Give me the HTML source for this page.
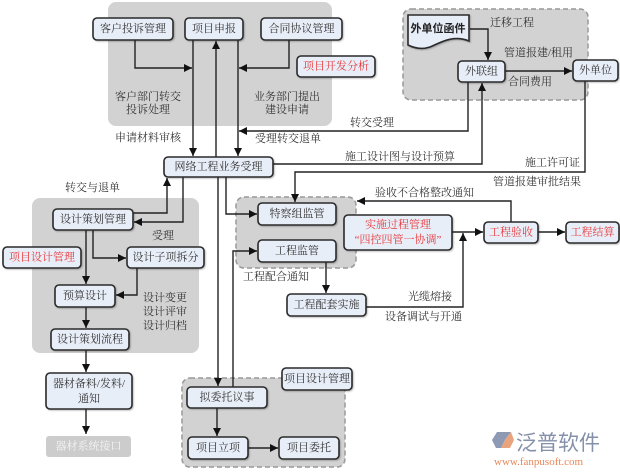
<!DOCTYPE html>
<html><head><meta charset="utf-8"><style>
html,body{margin:0;padding:0;background:#fff;}
svg{display:block;}
text{font-family:"Liberation Serif","Noto Serif CJK SC",serif;font-size:11px;fill:#333;}
.b{fill:#e8eef8;stroke:#2a2a2a;stroke-width:1.6;}
.l{fill:none;stroke:#222;stroke-width:1.4;}
.r{fill:#e8383a;}
.c{text-anchor:middle;dominant-baseline:central;}
.s{text-anchor:start;dominant-baseline:central;}
</style></head><body>
<svg width="620" height="476" viewBox="0 0 620 476" xmlns="http://www.w3.org/2000/svg">
<defs>
<marker id="a" viewBox="0 0 10 10" refX="10" refY="5" markerWidth="8" markerHeight="8" markerUnits="userSpaceOnUse" orient="auto">
<path d="M0,0 L10,5 L0,10 Z" fill="#111"/>
</marker>
<filter id="sh" x="-10%" y="-10%" width="130%" height="140%"><feDropShadow dx="1" dy="1" stdDeviation="0.8" flood-color="#000" flood-opacity="0.25"/></filter>
</defs>

<!-- background groups -->
<rect x="108" y="2" width="224" height="124" rx="8" fill="#d2d2d2"/>
<rect x="403" y="9" width="185" height="91" rx="8" fill="#d2d2d2" stroke="#999" stroke-width="1.5" stroke-dasharray="5,3"/>
<rect x="32" y="198" width="167" height="155" rx="8" fill="#d2d2d2"/>
<rect x="236" y="197" width="120" height="71" rx="8" fill="#d2d2d2" stroke="#999" stroke-width="1.5" stroke-dasharray="5,3"/>
<rect x="182" y="378" width="163" height="89" rx="8" fill="#d2d2d2" stroke="#999" stroke-width="1.5" stroke-dasharray="5,3"/>

<!-- connectors -->
<path class="l" d="M135,40 V68 H192" marker-end="url(#a)"/>
<path class="l" d="M193,40 V156" marker-end="url(#a)"/>
<path class="l" d="M216,157 V41" marker-end="url(#a)"/>
<path class="l" d="M238,40 V156" marker-end="url(#a)"/>
<path class="l" d="M289,40 V68 H239" marker-end="url(#a)"/>
<path class="l" d="M468,82 V131 H239" marker-end="url(#a)"/>
<path class="l" d="M273,164 H482 V83" marker-end="url(#a)"/>
<path class="l" d="M470,29 H488 V60" marker-end="url(#a)"/>
<path class="l" d="M505,71 H572" marker-end="url(#a)"/>
<path class="l" d="M585,81 V172 H295 V202" marker-end="url(#a)"/>
<path class="l" d="M183,177 V222 H134" marker-end="url(#a)"/>
<path class="l" d="M133,213 H167 V178" marker-end="url(#a)"/>
<path class="l" d="M226,177 V214 H257" marker-end="url(#a)"/>
<path class="l" d="M218,177 V386" marker-end="url(#a)"/>
<path class="l" d="M233,387 V251 H257" marker-end="url(#a)"/>
<path class="l" d="M93,230 V258 H126" marker-end="url(#a)"/>
<path class="l" d="M86,230 V284" marker-end="url(#a)"/>
<path class="l" d="M137,268 V295 H116" marker-end="url(#a)"/>
<path class="l" d="M86,307 V328" marker-end="url(#a)"/>
<path class="l" d="M86,350 V372" marker-end="url(#a)"/>
<path class="l" d="M86,409 V434" marker-end="url(#a)"/>
<path class="l" d="M217,408 V436" marker-end="url(#a)"/>
<path class="l" d="M248,448 H278" marker-end="url(#a)"/>
<path class="l" d="M326,262 V293" marker-end="url(#a)"/>
<path class="l" d="M366,307 H463 V233" marker-end="url(#a)"/>
<path class="l" d="M452,232 H483" marker-end="url(#a)"/>
<path class="l" d="M538,232 H565" marker-end="url(#a)"/>
<path class="l" d="M511,222 V201 H357" marker-end="url(#a)"/>

<!-- document shape -->
<path d="M408,15 H469 V41 C452,34 438,44 430,47 C421,50 414,48 408,45 Z" fill="#e8eef8" stroke="#2a2a2a" stroke-width="1.6" filter="url(#sh)"/>
<text class="c" x="438" y="28" style="font-weight:bold;font-family:'Noto Sans CJK SC',sans-serif;font-size:11px;fill:#222">外单位函件</text>

<!-- boxes -->
<g filter="url(#sh)">
<rect class="b" x="93" y="18" width="80" height="22" rx="4"/>
<rect class="b" x="185" y="18" width="58" height="22" rx="4"/>
<rect class="b" x="261" y="18" width="81" height="22" rx="4"/>
<rect class="b" x="297" y="56" width="78" height="21" rx="4"/>
<rect class="b" x="458" y="61" width="47" height="21" rx="4"/>
<rect class="b" x="573" y="60" width="45" height="21" rx="4"/>
<rect class="b" x="164" y="157" width="109" height="20" rx="4"/>
<rect class="b" x="53" y="209" width="80" height="21" rx="4"/>
<rect class="b" x="3" y="247" width="78" height="21" rx="4"/>
<rect class="b" x="127" y="247" width="77" height="21" rx="4"/>
<rect class="b" x="55" y="285" width="60" height="22" rx="4"/>
<rect class="b" x="51" y="329" width="78" height="21" rx="4"/>
<rect class="b" x="46" y="373" width="86" height="36" rx="4"/>
<rect class="b" x="258" y="203" width="78" height="22" rx="4"/>
<rect class="b" x="258" y="240" width="78" height="22" rx="4"/>
<rect class="b" x="344" y="215" width="108" height="35" rx="4"/>
<rect class="b" x="287" y="294" width="79" height="22" rx="4"/>
<rect class="b" x="484" y="222" width="54" height="21" rx="4"/>
<rect class="b" x="566" y="222" width="53" height="21" rx="4"/>
<rect class="b" x="282" y="368" width="70" height="22" rx="4"/>
<rect class="b" x="187" y="387" width="80" height="21" rx="4"/>
<rect class="b" x="188" y="437" width="60" height="22" rx="4"/>
<rect class="b" x="279" y="437" width="60" height="22" rx="4"/>
</g>
<rect x="46" y="436" width="85" height="21" rx="3" fill="#cccccc"/>

<!-- box labels -->
<text class="c" x="133" y="29">客户投诉管理</text>
<text class="c" x="214" y="29">项目申报</text>
<text class="c" x="301.5" y="29">合同协议管理</text>
<text class="c r" x="336" y="66.5">项目开发分析</text>
<text class="c" x="481.5" y="71.5">外联组</text>
<text class="c" x="595.5" y="70.5">外单位</text>
<text class="c" x="218.5" y="167">网络工程业务受理</text>
<text class="c" x="93" y="219.5">设计策划管理</text>
<text class="c r" x="42" y="257.5">项目设计管理</text>
<text class="c" x="165.5" y="257.5">设计子项拆分</text>
<text class="c" x="85" y="296">预算设计</text>
<text class="c" x="90" y="339.5">设计策划流程</text>
<text class="c" x="89" y="384">器材备料/发料/</text>
<text class="c" x="89" y="399">通知</text>
<text class="c" x="88.5" y="446.5" style="fill:#f4f4f4">器材系统接口</text>
<text class="c" x="297" y="214">特察组监管</text>
<text class="c" x="297" y="251">工程监管</text>
<text class="c r" x="398" y="225">实施过程管理</text>
<text class="c r" x="398" y="240">“四控四管一协调”</text>
<text class="c" x="326.5" y="305">工程配套实施</text>
<text class="c r" x="511" y="232.5">工程验收</text>
<text class="c r" x="592.5" y="232.5">工程结算</text>
<text class="c" x="317" y="379">项目设计管理</text>
<text class="c" x="227" y="397.5">拟委托议事</text>
<text class="c" x="218" y="448">项目立项</text>
<text class="c" x="309" y="448">项目委托</text>

<!-- connector labels -->
<g style="fill:#444">
<text class="c" x="148" y="97">客户部门转交</text>
<text class="c" x="148" y="110">投诉处理</text>
<text class="c" x="287" y="97">业务部门提出</text>
<text class="c" x="287" y="110">建设申请</text>
<text class="s" x="115" y="138">申请材料审核</text>
<text class="s" x="255" y="139">受理转交退单</text>
<text class="s" x="350" y="123">转交受理</text>
<text class="s" x="345" y="157">施工设计图与设计预算</text>
<text class="s" x="490" y="23">迁移工程</text>
<text class="s" x="504" y="53">管道报建/租用</text>
<text class="s" x="508" y="82">合同费用</text>
<text class="s" x="525" y="163">施工许可证</text>
<text class="s" x="493" y="182">管道报建审批结果</text>
<text class="s" x="375" y="193">验收不合格整改通知</text>
<text class="s" x="65" y="188">转交与退单</text>
<text class="s" x="152" y="236">受理</text>
<text class="s" x="143" y="298">设计变更</text>
<text class="s" x="143" y="312">设计评审</text>
<text class="s" x="143" y="326">设计归档</text>
<text class="s" x="243" y="277">工程配合通知</text>
<text class="s" x="408" y="297">光缆熔接</text>
<text class="s" x="385" y="317">设备调试与开通</text>
</g>

<!-- logo -->
<path d="M497,432 H511 L505,440 L501,448 H496 L492,440 Z" fill="#8e99b3"/>
<path d="M511,432 L514,440 L510,448 H501 L505,440 Z" fill="#e9a47e"/>
<text x="516" y="450" style="font-family:'Noto Sans CJK SC',sans-serif;font-size:21px;fill:#8590aa">泛普软件</text>
<text x="494" y="462" style="font-size:11px;fill:#e6875a;dominant-baseline:central">www.fanpusoft.com</text>
</svg>
</body></html>
